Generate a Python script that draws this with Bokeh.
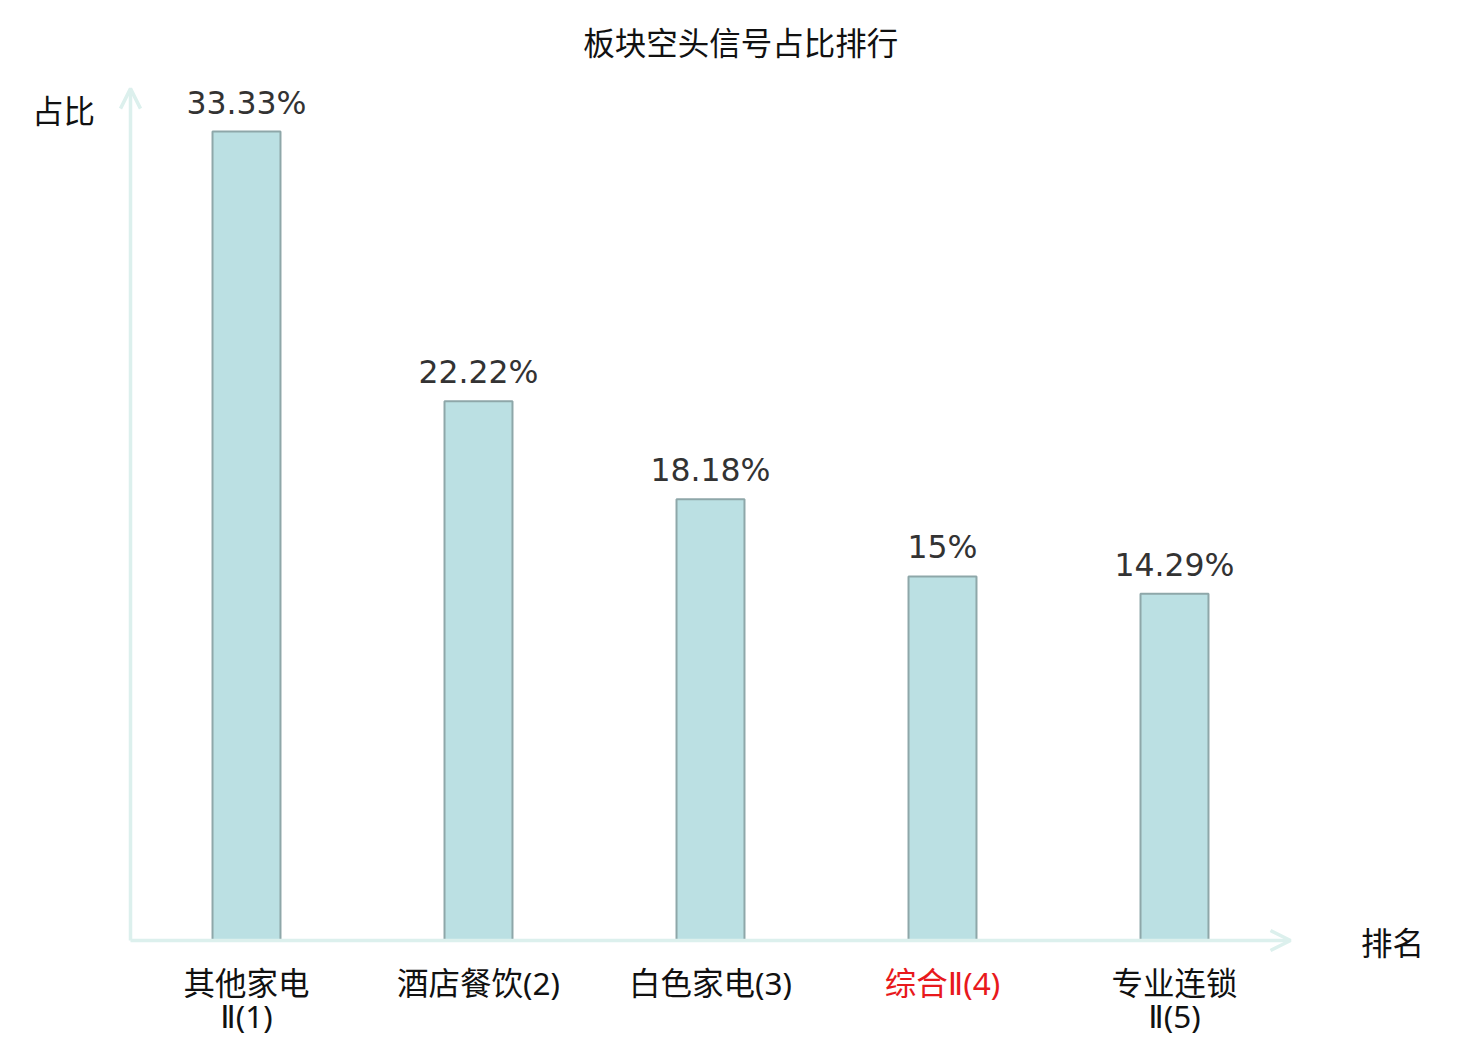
from bokeh.plotting import figure
from bokeh.models import ColumnDataSource, LabelSet, Label, Arrow, OpenHead, Range1d
from bokeh.core.properties import value
from bokeh.embed import file_html
from bokeh.resources import INLINE

# ---- data ----
title_text = "板块空头信号占比排行"
cat_line1 = ["其他家电", "酒店餐饮(2)", "白色家电(3)", "综合Ⅱ(4)", "专业连锁"]
cat_line2 = ["Ⅱ(1)", "", "", "", "Ⅱ(5)"]
cat_colors = ["#111111", "#111111", "#111111", "#e8191c", "#111111"]
shares = [33.33, 22.22, 18.18, 15.0, 14.29]
share_labels = ["33.33%", "22.22%", "18.18%", "15%", "14.29%"]
y_name = "占比"
x_name = "排名"

CJK = "Noto Sans CJK SC"
CAT_FONT = "Noto Sans, DejaVu Sans, Noto Sans CJK SC"

xs = [i + 0.5 for i in range(len(shares))]
src = ColumnDataSource(dict(x=xs, top=shares, vl=share_labels,
                            l1=cat_line1, l2=cat_line2, col=cat_colors))

W, H = 1472, 1040
p = figure(width=W, height=H, output_backend="svg", toolbar_location=None,
           x_range=Range1d(-130 / 232, (W - 130) / 232),
           y_range=Range1d(-(H - 940) / 24.27, 940 / 24.27),
           x_axis_location=None, y_axis_location=None,
           min_border_left=0, min_border_right=0,
           min_border_top=0, min_border_bottom=0)
p.outline_line_color = None
p.grid.visible = False
p.background_fill_color = "white"
p.border_fill_color = "white"

axis_col = "#dcf0ed"
# y axis arrow
p.add_layout(Arrow(x_start=0, y_start=0, x_end=0, y_end=35.1,
                   line_color=axis_col, line_width=3.5,
                   end=OpenHead(size=20, line_color=axis_col, line_width=3.5)))
# x axis arrow
p.add_layout(Arrow(x_start=0, y_start=0, x_end=5.0, y_end=0,
                   line_color=axis_col, line_width=3.5,
                   end=OpenHead(size=20, line_color=axis_col, line_width=3.5)))

p.vbar(x="x", top="top", bottom=0, width=0.293, source=src,
       fill_color="#bbe0e3", line_color="#8ea7a9", line_width=2)

p.add_layout(LabelSet(x="x", y="top", text="vl", source=src,
                      text_align="center", text_baseline="alphabetic",
                      y_offset=18, text_font=value("DejaVu Sans"),
                      text_font_size="31.5px", text_color="#333333"))

p.add_layout(LabelSet(x="x", y=-1.72, text="l1", source=src,
                      text_align="center", text_baseline="middle",
                      text_font=value(CAT_FONT), text_font_size="31.5px",
                      text_color="col"))
p.add_layout(LabelSet(x="x", y=-3.07, text="l2", source=src,
                      text_align="center", text_baseline="middle",
                      text_font=value(CAT_FONT), text_font_size="31.5px",
                      text_color="col"))

p.add_layout(Label(x=2.63, y=37.05, text=title_text, text_align="center",
                   text_baseline="middle", text_font=CJK,
                   text_font_size="31.5px", text_color="#111111"))
p.add_layout(Label(x=-0.289, y=34.25, text=y_name, text_align="center",
                   text_baseline="middle", text_font=CJK,
                   text_font_size="31.5px", text_color="#111111"))
p.add_layout(Label(x=5.44, y=0.0, text=x_name, text_align="center",
                   text_baseline="middle", text_font=CJK,
                   text_font_size="31.5px", text_color="#111111"))

open("out.html", "w").write(file_html(p, INLINE))
